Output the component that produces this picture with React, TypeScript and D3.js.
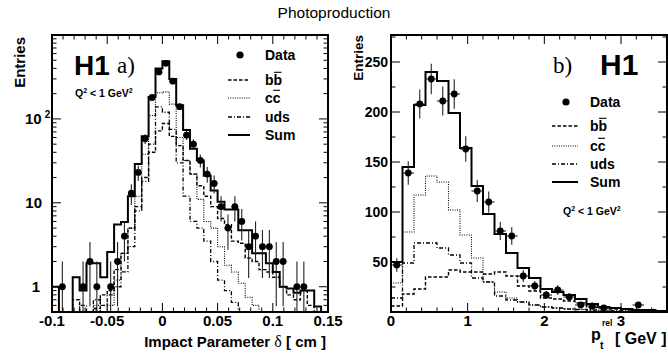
import React from "react";
import * as d3 from "d3";

// ---------- Panel a) impact parameter (log y) ----------
const ipLow = -0.1;
const ipBinWidth = 0.00625;
const ipData: (number | null)[] = [null, 1, null, null, 1, 2, 1, null, 1, 2, 4, 13, 23, 58, 180, 363, 460, 282, 140, 64, 50, 32, 22, 17, 9, 5, 9, 6, 3, 4, 3, 3, 2, 2, null, 1, 1, null, null, null];
const ipSum = [1.0, 0.3, 0.3, 1.3, 0.9, 1.9, 1.9, 1.3, 2.6, 5.5, 5.9, 12, 29, 62, 183, 400, 486, 300, 145, 74, 44, 32, 21, 14, 10.3, 8.3, 8.3, 4.7, 4.7, 2.5, 2.5, 1.9, 1.5, 1.0, 0.95, 0.85, 0.9, 0.9, 0.58, 0.3];
const ipBB = [0.3, 0.3, 0.3, 0.7, 0.5, 0.4, 0.55, 0.8, 0.9, 1.6, 2.5, 5, 9, 20, 40, 72, 88, 62, 48, 32, 22, 16, 12, 9, 6.5, 5.5, 3.5, 3.3, 2.2, 2.0, 1.6, 1.5, 1.3, 1.0, 0.8, 0.7, 0.9, 0.6, 0.4, 0.4];
const ipCC = [0.3, 0.3, 0.3, 0.3, 0.3, 0.3, 0.6, 0.3, 0.6, 1.2, 2.5, 5, 12, 38, 110, 205, 210, 150, 60, 32, 22, 11, 6, 5, 3, 1.8, 1.5, 1.1, 0.75, 0.6, 0.45, 0.3, 0.3, 0.3, 0.3, 0.3, 0.3, 0.3, 0.3, 0.3];
const ipUDS = [0.3, 0.3, 0.3, 0.3, 0.6, 0.5, 0.7, 0.6, 0.8, 1.0, 1.5, 3, 8, 18, 50, 139, 120, 75, 30, 12, 6, 5, 3.5, 2, 1.2, 0.9, 0.65, 0.5, 0.3, 0.3, 0.3, 0.3, 0.3, 0.3, 0.3, 0.3, 0.3, 0.3, 0.3, 0.3];
const ipXTicks = [-0.1, -0.05, 0, 0.05, 0.1, 0.15];
const ipXTickLabels = ["-0.1", "-0.05", "0", "0.05", "0.1", "0.15"];

// ---------- Panel b) pt rel (linear y) ----------
const ptLow = 0;
const ptBinWidth = 0.15;
const ptData: (number | null)[] = [47, 139, 208, 233, 211, 218, 163, 121, 110, 81, 76, 36, 26, 17, 22, 15, 7, 6, 4, null, null, 7, null, null];
const ptSum = [50, 145, 207, 240, 231, 199, 164, 126, 98, 78, 59, 44, 34, 23, 20, 17, 13, 8, 5, 4, 3, 2, 2, 1];
const ptBB = [6, 18, 23, 35, 35, 42, 40, 40, 38, 40, 36, 26, 21, 14, 13, 11, 9, 4.5, 4, 3, 2.5, 2, 1.5, 1];
const ptCC = [29, 80, 117, 136, 130, 102, 77, 54, 30, 20, 14, 10, 7, 5, 4, 3, 2.5, 2, 1.5, 1.2, 1, 0.8, 0.5, 0.4];
const ptUDS = [14, 49, 69, 69, 64, 57, 49, 34, 30, 16, 12, 10, 7, 5, 4, 3, 2.5, 2, 1.5, 1.2, 1, 0.8, 0.6, 0.5];
const ptXTicks = [0, 1, 2, 3];
const ptYTicks = [50, 100, 150, 200, 250];

const legendLabels = ["Data", "bb", "cc", "uds", "Sum"];

const FONT = "'Liberation Sans', Arial, Helvetica, sans-serif";

const styles = {
  bb: { dash: "3.5,2", width: 1.4 },
  cc: { dash: "1,1.3", width: 1.1 },
  uds: { dash: "4,2,1,2", width: 1.3 },
  sum: { dash: undefined as string | undefined, width: 2 },
};

function stepPath(values: number[], low: number, bw: number, xs: any, ys: any, floor: number) {
  const pts: [number, number][] = values.map((v, i) => [xs(low + i * bw), ys(Math.max(v, floor))]);
  pts.push([xs(low + values.length * bw), ys(Math.max(values[values.length - 1], floor))]);
  return d3.line().curve(d3.curveStepAfter)(pts) || "";
}

export default function App() {
  const W = 668, H = 357;
  const L = { x0: 52, x1: 328, y0: 35, y1: 312 };
  const R = { x0: 391, x1: 667, y0: 35, y1: 312 };

  const xIP = d3.scaleLinear().domain([-0.1, 0.15]).range([L.x0, L.x1]);
  const yIP = d3.scaleLog().domain([0.5, 1000]).range([L.y1, L.y0]);
  const xPT = d3.scaleLinear().domain([0, 3.6]).range([R.x0, R.x1]);
  const yPT = d3.scaleLinear().domain([0, 277]).range([R.y1, R.y0]);

  const majLen = 9, minLen = 4.5;

  const ipXMinor = d3.range(-10, 16).map((i) => i / 100);
  const ipYMajor = [1, 10, 100];
  const ipYMinor: number[] = [];
  [0.1, 1, 10, 100].forEach((d) => d3.range(2, 10).forEach((m) => { const v = d * m; if (v >= 0.5 && v < 1000) ipYMinor.push(v); }));
  const ptXMinor = d3.range(0, 19).map((i) => i * 0.2);
  const ptYMinor = d3.range(0, 12).map((i) => i * 25);

  const comps = (vals: { bb: number[]; cc: number[]; uds: number[]; sum: number[] }, low: number, bw: number, xs: any, ys: any, floor: number, clip: string) => (
    <g clipPath={`url(#${clip})`} fill="none" stroke="#000">
      <path d={stepPath(vals.cc, low, bw, xs, ys, floor)} strokeDasharray={styles.cc.dash} strokeWidth={styles.cc.width} />
      <path d={stepPath(vals.uds, low, bw, xs, ys, floor)} strokeDasharray={styles.uds.dash} strokeWidth={styles.uds.width} />
      <path d={stepPath(vals.bb, low, bw, xs, ys, floor)} strokeDasharray={styles.bb.dash} strokeWidth={styles.bb.width} />
      <path d={stepPath(vals.sum, low, bw, xs, ys, floor)} strokeWidth={styles.sum.width} />
    </g>
  );

  const points = (data: (number | null)[], low: number, bw: number, xs: any, ys: any, floor: number, clip: string) => (
    <g clipPath={`url(#${clip})`}>
      {data.map((n, i) => {
        if (n == null) return null;
        const c = low + (i + 0.5) * bw;
        const e = Math.sqrt(n);
        const cx = xs(c);
        const cy = ys(n);
        return (
          <g key={i}>
            <line x1={cx} x2={cx} y1={ys(Math.max(n - e, floor))} y2={ys(n + e)} stroke="#222" strokeWidth={1.1} />
            <line x1={xs(low + i * bw)} x2={xs(low + (i + 1) * bw)} y1={cy} y2={cy} stroke="#222" strokeWidth={1.1} />
            <circle cx={cx} cy={cy} r={3.4} fill="#000" />
          </g>
        );
      })}
    </g>
  );

  const frame = (P: typeof L) => (
    <rect x={P.x0} y={P.y0} width={P.x1 - P.x0} height={P.y1 - P.y0} fill="none" stroke="#000" strokeWidth={2} />
  );

  const legend = (x0: number, x1: number, tx: number, ys: number[], size: number) => (
    <g fontFamily={FONT} fontWeight="bold" fontSize={size}>
      <circle cx={(x0 + x1) / 2 + 1} cy={ys[0]} r={3.6} fill="#000" />
      {[styles.bb, styles.cc, styles.uds, styles.sum].map((s, i) => (
        <line key={i} x1={x0} x2={x1} y1={ys[i + 1]} y2={ys[i + 1]} stroke="#000" strokeWidth={s.width} strokeDasharray={s.dash} />
      ))}
      {legendLabels.map((t, i) => (
        <text key={t} x={tx} y={ys[i] + size * 0.36}>{t}</text>
      ))}
      {[1, 2].map((i) => (
        <line key={"ov" + i} x1={tx + size * (i === 1 ? 0.64 : 0.58)} x2={tx + size * (i === 1 ? 1.18 : 1.08)} y1={ys[i] - size * 0.55} y2={ys[i] - size * 0.55} stroke="#000" strokeWidth={1.1} />
      ))}
    </g>
  );

  const q2 = (x: number, y: number) => (
    <text x={x} y={y} fontFamily={FONT} fontWeight="bold" fontSize={10.5}>
      Q<tspan fontSize={7} dy={-4}>2</tspan><tspan dy={4}> &lt; 1 GeV</tspan><tspan fontSize={7} dy={-4}>2</tspan>
    </text>
  );

  return (
    <div style={{ position: "fixed", left: 0, top: 0 }}>
      <svg width={W} height={H} style={{ display: "block", background: "#fff" }}>
        <defs>
          <clipPath id="clipL"><rect x={L.x0} y={L.y0} width={L.x1 - L.x0} height={L.y1 - L.y0} /></clipPath>
          <clipPath id="clipR"><rect x={R.x0} y={R.y0} width={R.x1 - R.x0} height={R.y1 - R.y0} /></clipPath>
        </defs>

        <text x={334} y={18} textAnchor="middle" fontFamily={FONT} fontSize={15.5}>Photoproduction</text>

        {/* ===== Left panel ===== */}
        {comps({ bb: ipBB, cc: ipCC, uds: ipUDS, sum: ipSum }, ipLow, ipBinWidth, xIP, yIP, 0.3, "clipL")}
        {points(ipData, ipLow, ipBinWidth, xIP, yIP, 0.3, "clipL")}
        <g stroke="#000" strokeWidth={1}>
          {ipXMinor.map((v, i) => {
            const major = ipXTicks.some((t) => Math.abs(t - v) < 1e-9);
            const len = major ? majLen : minLen;
            const x = xIP(v);
            return (
              <g key={i}>
                <line x1={x} x2={x} y1={L.y1} y2={L.y1 - len} />
                <line x1={x} x2={x} y1={L.y0} y2={L.y0 + len} />
              </g>
            );
          })}
          {ipYMajor.map((v) => (
            <g key={"M" + v}>
              <line x1={L.x0} x2={L.x0 + majLen} y1={yIP(v)} y2={yIP(v)} />
              <line x1={L.x1} x2={L.x1 - majLen} y1={yIP(v)} y2={yIP(v)} />
            </g>
          ))}
          {ipYMinor.map((v) => (
            <g key={"m" + v}>
              <line x1={L.x0} x2={L.x0 + minLen} y1={yIP(v)} y2={yIP(v)} />
              <line x1={L.x1} x2={L.x1 - minLen} y1={yIP(v)} y2={yIP(v)} />
            </g>
          ))}
        </g>
        {frame(L)}
        <g fontFamily={FONT} fontWeight="bold" fontSize={15}>
          {ipXTicks.map((t, i) => (
            <text key={t} x={xIP(t)} y={326} textAnchor="middle">{ipXTickLabels[i]}</text>
          ))}
          <text x={25} y={yIP(100) + 5}>10<tspan fontSize={10} dx={3} dy={-6}>2</tspan></text>
          <text x={42} y={yIP(10) + 5} textAnchor="end">10</text>
          <text x={40} y={yIP(1) + 5} textAnchor="end">1</text>
          <text x={326} y={347} textAnchor="end">
            Impact Parameter <tspan fontFamily="'Liberation Serif', 'Times New Roman', serif" fontWeight="normal" fontSize={16}>δ</tspan> [ cm ]
          </text>
          <text transform="translate(25,37) rotate(-90)" textAnchor="end" fontSize={15}>Entries</text>
        </g>
        <text x={74} y={75} fontFamily={FONT} fontWeight="bold" fontSize={28}>H1</text>
        <text x={117} y={73} fontFamily="'Liberation Serif', 'Times New Roman', serif" fontSize={23}>a)</text>
        {q2(75, 97)}
        {legend(228, 250, 265, [55, 80, 98, 117, 135], 14)}

        {/* ===== Right panel ===== */}
        {comps({ bb: ptBB, cc: ptCC, uds: ptUDS, sum: ptSum }, ptLow, ptBinWidth, xPT, yPT, 0, "clipR")}
        {points(ptData, ptLow, ptBinWidth, xPT, yPT, 0, "clipR")}
        <g stroke="#000" strokeWidth={1}>
          {ptXMinor.map((v, i) => {
            const major = Math.abs(v - Math.round(v)) < 1e-9;
            const len = major ? majLen : minLen;
            const x = xPT(v);
            return (
              <g key={i}>
                <line x1={x} x2={x} y1={R.y1} y2={R.y1 - len} />
                <line x1={x} x2={x} y1={R.y0} y2={R.y0 + len} />
              </g>
            );
          })}
          {ptYMinor.map((v, i) => {
            const major = v % 50 === 0;
            const len = major ? majLen : minLen;
            const y = yPT(v);
            return (
              <g key={i}>
                <line x1={R.x0} x2={R.x0 + len} y1={y} y2={y} />
                <line x1={R.x1} x2={R.x1 - len} y1={y} y2={y} />
              </g>
            );
          })}
        </g>
        {frame(R)}
        <g fontFamily={FONT} fontWeight="bold" fontSize={15}>
          {ptXTicks.map((t) => (
            <text key={t} x={xPT(t)} y={326} textAnchor="middle">{t}</text>
          ))}
          {ptYTicks.map((t) => (
            <text key={t} x={388} y={yPT(t) + 5} textAnchor="end" fontSize={14}>{t}</text>
          ))}
          <text x={591} y={340} fontSize={16}>p</text>
          <text x={600} y={349} fontSize={10.5}>t</text>
          <text x={602} y={326} fontSize={8.5}>rel</text>
          <text x={615} y={344} fontSize={16}>[ GeV ]</text>
          <text transform="translate(363,35) rotate(-90)" textAnchor="end" fontSize={13.5}>Entries</text>
        </g>
        <text x={553} y={73} fontFamily="'Liberation Serif', 'Times New Roman', serif" fontSize={23}>b)</text>
        <text x={600} y={75} fontFamily={FONT} fontWeight="bold" fontSize={30}>H1</text>
        {q2(563, 215)}
        {legend(552, 578, 590, [102, 126, 146, 164, 182], 14)}
      </svg>
    </div>
  );
}
